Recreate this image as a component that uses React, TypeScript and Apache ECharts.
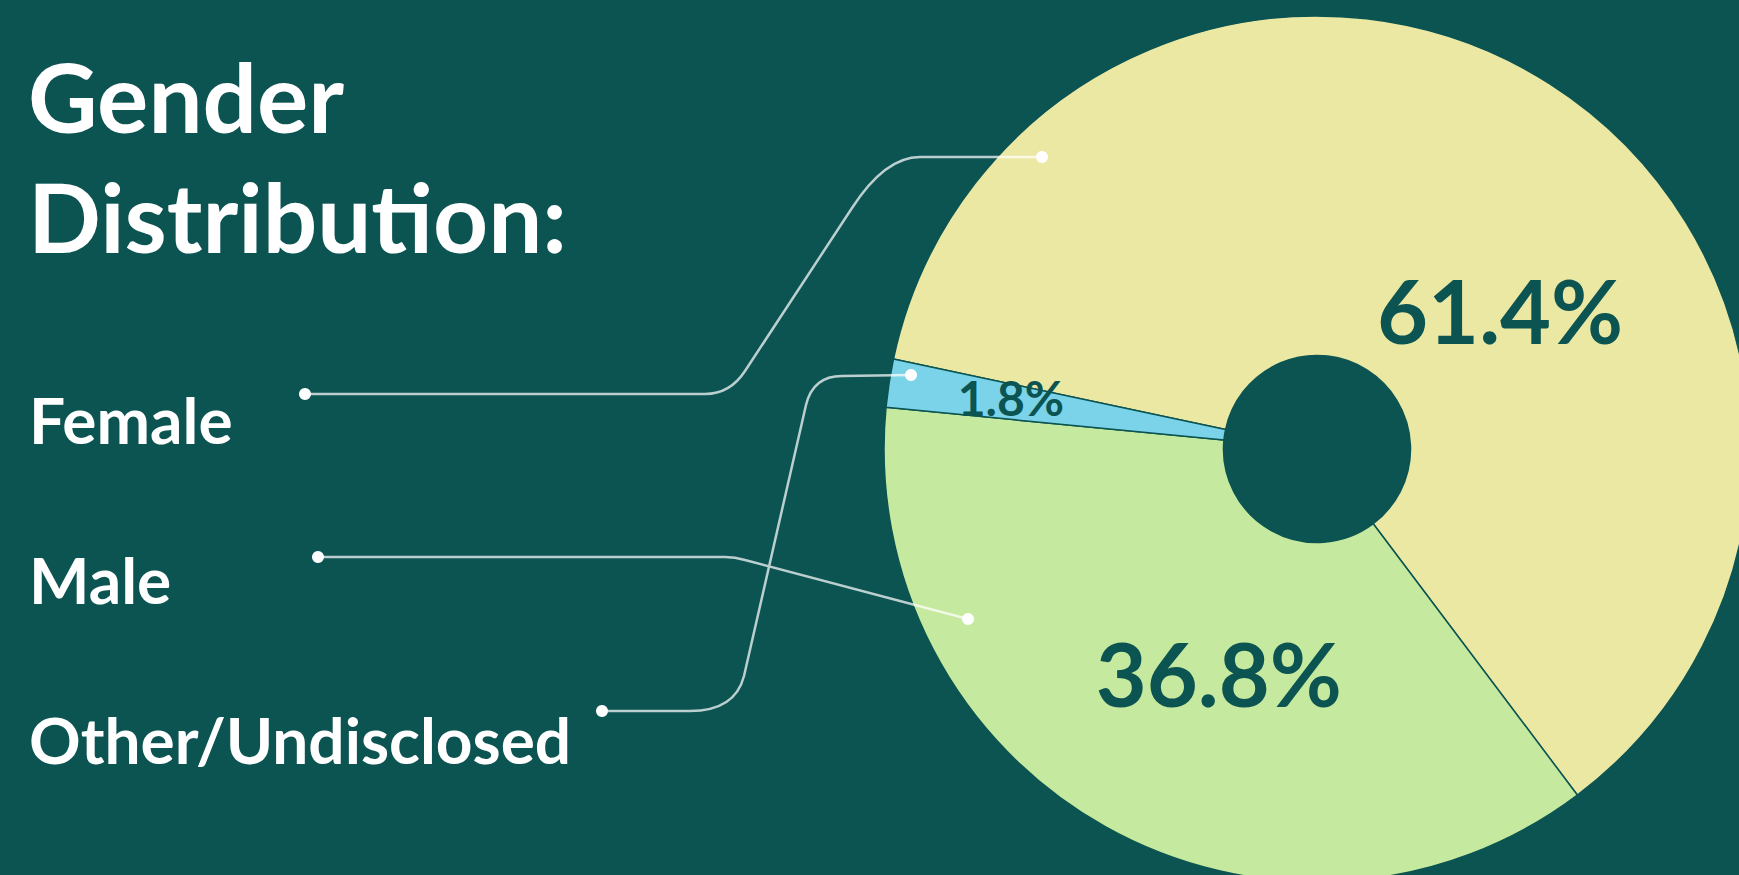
import React, { useEffect, useRef } from "react";
import * as echarts from "echarts";

const categories = ["Female", "Male", "Other/Undisclosed"];
const shares = [61.4, 36.8, 1.8];
const sliceColors = ["#EBE8A4", "#C5E99E", "#7AD3E8"];
const titleLines = ["Gender", "Distribution:"];

const BG = "#0B5452";

const CONNECTORS =
  "M305 394 L705 394 Q730 394 745 371 L852 208 Q885 157 920 157 L1042 157 " +
  "M318 557 L725 557 Q735 557 745 560 L968 619 " +
  "M602 711 L690 711 Q735 711 744 676 L806 405 Q813 376 842 376 L911 375";

echarts.graphic.registerShape("connectors", echarts.graphic.extendPath(CONNECTORS, {}));

const dotPoints: number[][] = [
  [305, 394], [1042, 157],
  [318, 557], [968, 619],
  [602, 711], [911, 375],
];

const labelShift = [
  { dx: 40, dy: 86 },
  { dx: 32, dy: -8 },
  { dx: -43, dy: -11 },
];
const labelSizes = [88, 88, 48];
const legendY = [419, 579, 739];

export default function App() {
  const ref = useRef<HTMLDivElement>(null);
  useEffect(() => {
    if (!ref.current) return;
    const chart = echarts.init(ref.current, null, { renderer: "svg" });
    const graphics: any[] = [
      {
        type: "connectors",
        x: 0,
        y: 0,
        scaleX: 1,
        scaleY: 1,
        z: 10,
        style: { fill: null, stroke: "rgba(255,255,255,0.72)", lineWidth: 2.5 },
      },
      ...dotPoints.map((p) => ({
        type: "circle",
        z: 11,
        shape: { cx: p[0], cy: p[1], r: 6 },
        style: { fill: "#FFFFFF" },
      })),
      ...categories.map((c, i) => ({
        type: "text",
        z: 11,
        x: 29,
        y: legendY[i],
        style: {
          text: c,
          fill: "#FFFFFF",
          font: "bold 64px Lato",
          verticalAlign: "middle",
          align: "left",
        },
      })),
    ];
    chart.setOption({
      animation: false,
      backgroundColor: BG,
      title: {
        text: titleLines.join("\n"),
        left: 28,
        top: 35,
        padding: 0,
        textStyle: {
          color: "#FFFFFF",
          fontFamily: "Lato",
          fontWeight: "bold",
          fontSize: 96,
          lineHeight: 120,
        },
      },
      graphic: graphics,
      series: [
        {
          type: "pie",
          center: [1317, 449],
          radius: [93.5, 433],
          startAngle: 168,
          clockwise: true,
          silent: true,
          itemStyle: { borderColor: BG, borderWidth: 1.5 },
          label: {
            show: true,
            position: "inside",
            color: BG,
            fontFamily: "Lato",
            fontWeight: "bold",
            formatter: (p: any) => p.value.toFixed(1) + "%",
          },
          labelLine: { show: false },
          labelLayout: (params: any) => labelShift[params.dataIndex],
          data: categories.map((c, i) => ({
            name: c,
            value: shares[i],
            itemStyle: { color: sliceColors[i] },
            label: { fontSize: labelSizes[i] },
          })),
        },
      ],
    });
    return () => chart.dispose();
  }, []);
  return (
    <div
      ref={ref}
      style={{ position: "absolute", left: 0, top: 0, width: 1739, height: 875 }}
    />
  );
}
